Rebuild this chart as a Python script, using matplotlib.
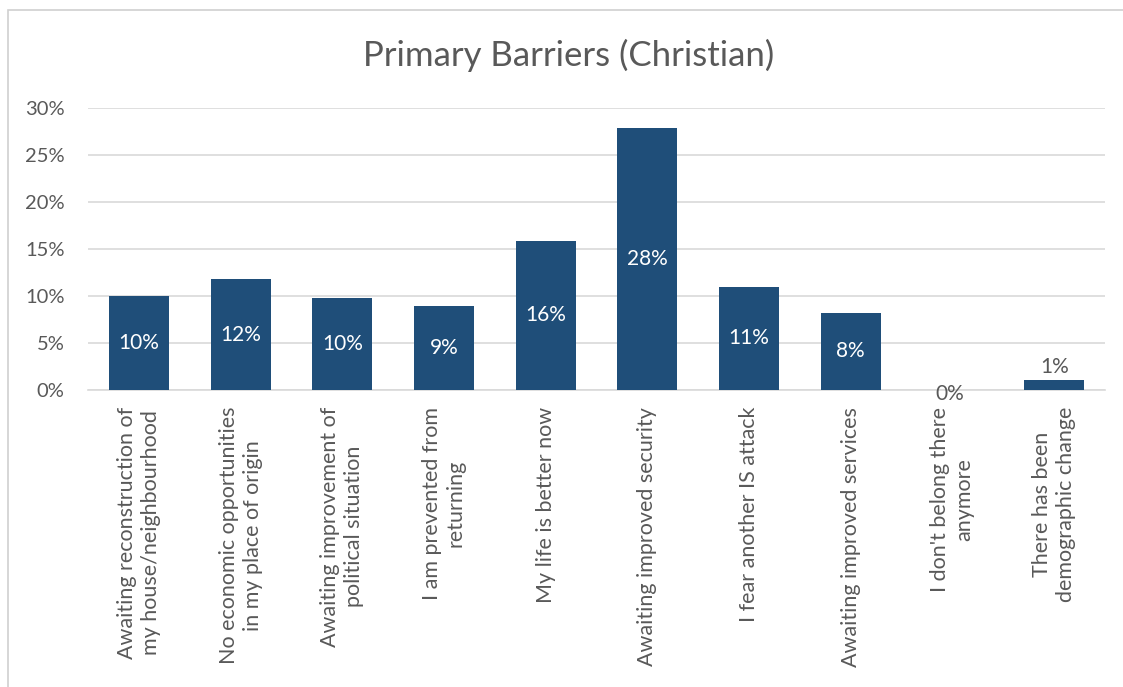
import matplotlib.pyplot as plt
from matplotlib.patches import Rectangle
from matplotlib.ticker import PercentFormatter

categories = [
    "Awaiting reconstruction of\nmy house/neighbourhood",
    "No economic opportunities\nin my place of origin",
    "Awaiting improvement of\npolitical situation",
    "I am prevented from\nreturning",
    "My life is better now",
    "Awaiting improved security",
    "I fear another IS attack",
    "Awaiting improved services",
    "I don't belong there\nanymore",
    "There has been\ndemographic change",
]
values = [0.10, 0.118, 0.098, 0.089, 0.159, 0.279, 0.110, 0.082, 0.0, 0.011]
labels = ["10%", "12%", "10%", "9%", "16%", "28%", "11%", "8%", "0%", "1%"]

bar_color = "#1f4e79"
text_color = "#595959"
grid_color = "#d9d9d9"

plt.rcParams["font.family"] = ["Lato", "DejaVu Sans"]

fig = plt.figure(figsize=(11.23, 6.87), dpi=100)
fig.patches.append(Rectangle((0.007, -0.01), 1.0, 0.995, transform=fig.transFigure,
                             fill=False, edgecolor="#d0d0d0", linewidth=1.2))

ax = fig.add_axes([0.0784, 0.4323, 0.9056, 0.4105])
x = list(range(len(categories)))
bars = ax.bar(x, values, width=0.59, color=bar_color, zorder=3)

ax.set_xlim(-0.5, len(categories) - 0.5)
ax.set_ylim(0, 0.30)
ax.set_yticks([0, 0.05, 0.10, 0.15, 0.20, 0.25, 0.30])
ax.yaxis.set_major_formatter(PercentFormatter(1.0, decimals=0))
ax.grid(axis="y", color=grid_color, linewidth=1.2, zorder=0)
for s in ["top", "right", "left"]:
    ax.spines[s].set_visible(False)
ax.spines["bottom"].set_color(grid_color)
ax.spines["bottom"].set_linewidth(1.2)
ax.tick_params(axis="both", length=0, colors=text_color)
ax.tick_params(axis="y", pad=17, labelsize=14.5)

ax.set_xticks(x)
ax.set_xticklabels(categories, rotation=90, ha="center", va="top",
                   multialignment="center", fontsize=15.5, color=text_color,
                   linespacing=1.25)
ax.tick_params(axis="x", pad=12)

for i, (v, lab) in enumerate(zip(values, labels)):
    if v >= 0.05:
        ax.text(i, v / 2, lab, ha="center", va="center", color="white", fontsize=15)
    elif v > 0:
        ax.text(i, v + 0.003, lab, ha="center", va="bottom", color=text_color, fontsize=15)
    else:
        ax.text(i - 0.03, v - 0.004, lab, ha="center", va="center", color=text_color, fontsize=15)

fig.text(0.506, 0.92, "Primary Barriers (Christian)", ha="center", va="center",
         fontsize=25, color=text_color)

fig.savefig("out.png", dpi=100)
